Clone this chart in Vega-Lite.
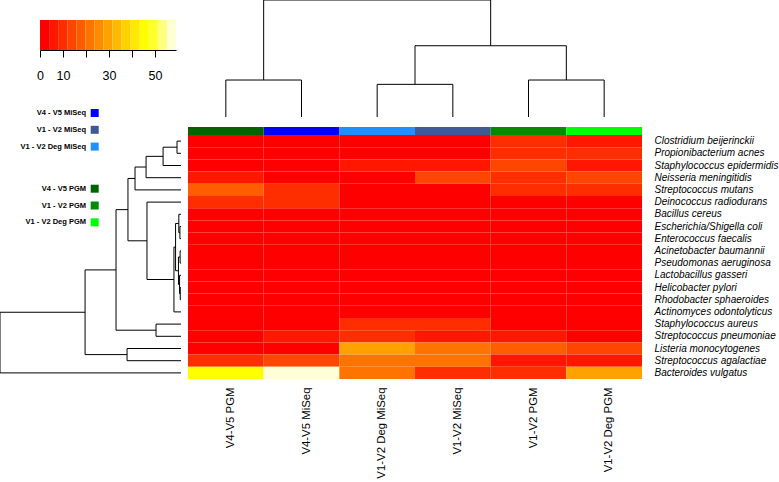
{
  "$schema": "https://vega.github.io/schema/vega-lite/v6.json",
  "width": 779,
  "height": 482,
  "autosize": {"type": "none"},
  "padding": 0,
  "background": "white",
  "config": {"view": {"stroke": null}, "font": "Liberation Sans"},
  "datasets": {
    "cells": [
      {"species": "Clostridium beijerinckii", "sample": "V4-V5 PGM", "value": 1},
      {"species": "Clostridium beijerinckii", "sample": "V4-V5 MiSeq", "value": 1},
      {"species": "Clostridium beijerinckii", "sample": "V1-V2 Deg MiSeq", "value": 1},
      {"species": "Clostridium beijerinckii", "sample": "V1-V2 MiSeq", "value": 1},
      {"species": "Clostridium beijerinckii", "sample": "V1-V2 PGM", "value": 9},
      {"species": "Clostridium beijerinckii", "sample": "V1-V2 Deg PGM", "value": 6},
      {"species": "Propionibacterium acnes", "sample": "V4-V5 PGM", "value": 1},
      {"species": "Propionibacterium acnes", "sample": "V4-V5 MiSeq", "value": 1},
      {"species": "Propionibacterium acnes", "sample": "V1-V2 Deg MiSeq", "value": 1},
      {"species": "Propionibacterium acnes", "sample": "V1-V2 MiSeq", "value": 1},
      {"species": "Propionibacterium acnes", "sample": "V1-V2 PGM", "value": 9},
      {"species": "Propionibacterium acnes", "sample": "V1-V2 Deg PGM", "value": 9},
      {"species": "Staphylococcus epidermidis", "sample": "V4-V5 PGM", "value": 1},
      {"species": "Staphylococcus epidermidis", "sample": "V4-V5 MiSeq", "value": 1},
      {"species": "Staphylococcus epidermidis", "sample": "V1-V2 Deg MiSeq", "value": 6},
      {"species": "Staphylococcus epidermidis", "sample": "V1-V2 MiSeq", "value": 6},
      {"species": "Staphylococcus epidermidis", "sample": "V1-V2 PGM", "value": 13},
      {"species": "Staphylococcus epidermidis", "sample": "V1-V2 Deg PGM", "value": 6},
      {"species": "Neisseria meningitidis", "sample": "V4-V5 PGM", "value": 6},
      {"species": "Neisseria meningitidis", "sample": "V4-V5 MiSeq", "value": 1},
      {"species": "Neisseria meningitidis", "sample": "V1-V2 Deg MiSeq", "value": 1},
      {"species": "Neisseria meningitidis", "sample": "V1-V2 MiSeq", "value": 13},
      {"species": "Neisseria meningitidis", "sample": "V1-V2 PGM", "value": 9},
      {"species": "Neisseria meningitidis", "sample": "V1-V2 Deg PGM", "value": 13},
      {"species": "Streptococcus mutans", "sample": "V4-V5 PGM", "value": 17},
      {"species": "Streptococcus mutans", "sample": "V4-V5 MiSeq", "value": 9},
      {"species": "Streptococcus mutans", "sample": "V1-V2 Deg MiSeq", "value": 1},
      {"species": "Streptococcus mutans", "sample": "V1-V2 MiSeq", "value": 1},
      {"species": "Streptococcus mutans", "sample": "V1-V2 PGM", "value": 9},
      {"species": "Streptococcus mutans", "sample": "V1-V2 Deg PGM", "value": 9},
      {"species": "Deinococcus radiodurans", "sample": "V4-V5 PGM", "value": 9},
      {"species": "Deinococcus radiodurans", "sample": "V4-V5 MiSeq", "value": 9},
      {"species": "Deinococcus radiodurans", "sample": "V1-V2 Deg MiSeq", "value": 1},
      {"species": "Deinococcus radiodurans", "sample": "V1-V2 MiSeq", "value": 1},
      {"species": "Deinococcus radiodurans", "sample": "V1-V2 PGM", "value": 1},
      {"species": "Deinococcus radiodurans", "sample": "V1-V2 Deg PGM", "value": 1},
      {"species": "Bacillus cereus", "sample": "V4-V5 PGM", "value": 1},
      {"species": "Bacillus cereus", "sample": "V4-V5 MiSeq", "value": 1},
      {"species": "Bacillus cereus", "sample": "V1-V2 Deg MiSeq", "value": 1},
      {"species": "Bacillus cereus", "sample": "V1-V2 MiSeq", "value": 1},
      {"species": "Bacillus cereus", "sample": "V1-V2 PGM", "value": 1},
      {"species": "Bacillus cereus", "sample": "V1-V2 Deg PGM", "value": 1},
      {"species": "Escherichia/Shigella coli", "sample": "V4-V5 PGM", "value": 1},
      {"species": "Escherichia/Shigella coli", "sample": "V4-V5 MiSeq", "value": 1},
      {"species": "Escherichia/Shigella coli", "sample": "V1-V2 Deg MiSeq", "value": 1},
      {"species": "Escherichia/Shigella coli", "sample": "V1-V2 MiSeq", "value": 1},
      {"species": "Escherichia/Shigella coli", "sample": "V1-V2 PGM", "value": 1},
      {"species": "Escherichia/Shigella coli", "sample": "V1-V2 Deg PGM", "value": 1},
      {"species": "Enterococcus faecalis", "sample": "V4-V5 PGM", "value": 1},
      {"species": "Enterococcus faecalis", "sample": "V4-V5 MiSeq", "value": 1},
      {"species": "Enterococcus faecalis", "sample": "V1-V2 Deg MiSeq", "value": 1},
      {"species": "Enterococcus faecalis", "sample": "V1-V2 MiSeq", "value": 1},
      {"species": "Enterococcus faecalis", "sample": "V1-V2 PGM", "value": 1},
      {"species": "Enterococcus faecalis", "sample": "V1-V2 Deg PGM", "value": 1},
      {"species": "Acinetobacter baumannii", "sample": "V4-V5 PGM", "value": 1},
      {"species": "Acinetobacter baumannii", "sample": "V4-V5 MiSeq", "value": 1},
      {"species": "Acinetobacter baumannii", "sample": "V1-V2 Deg MiSeq", "value": 1},
      {"species": "Acinetobacter baumannii", "sample": "V1-V2 MiSeq", "value": 1},
      {"species": "Acinetobacter baumannii", "sample": "V1-V2 PGM", "value": 1},
      {"species": "Acinetobacter baumannii", "sample": "V1-V2 Deg PGM", "value": 1},
      {"species": "Pseudomonas aeruginosa", "sample": "V4-V5 PGM", "value": 1},
      {"species": "Pseudomonas aeruginosa", "sample": "V4-V5 MiSeq", "value": 1},
      {"species": "Pseudomonas aeruginosa", "sample": "V1-V2 Deg MiSeq", "value": 1},
      {"species": "Pseudomonas aeruginosa", "sample": "V1-V2 MiSeq", "value": 1},
      {"species": "Pseudomonas aeruginosa", "sample": "V1-V2 PGM", "value": 1},
      {"species": "Pseudomonas aeruginosa", "sample": "V1-V2 Deg PGM", "value": 1},
      {"species": "Lactobacillus gasseri", "sample": "V4-V5 PGM", "value": 1},
      {"species": "Lactobacillus gasseri", "sample": "V4-V5 MiSeq", "value": 1},
      {"species": "Lactobacillus gasseri", "sample": "V1-V2 Deg MiSeq", "value": 1},
      {"species": "Lactobacillus gasseri", "sample": "V1-V2 MiSeq", "value": 1},
      {"species": "Lactobacillus gasseri", "sample": "V1-V2 PGM", "value": 1},
      {"species": "Lactobacillus gasseri", "sample": "V1-V2 Deg PGM", "value": 1},
      {"species": "Helicobacter pylori", "sample": "V4-V5 PGM", "value": 1},
      {"species": "Helicobacter pylori", "sample": "V4-V5 MiSeq", "value": 1},
      {"species": "Helicobacter pylori", "sample": "V1-V2 Deg MiSeq", "value": 1},
      {"species": "Helicobacter pylori", "sample": "V1-V2 MiSeq", "value": 1},
      {"species": "Helicobacter pylori", "sample": "V1-V2 PGM", "value": 1},
      {"species": "Helicobacter pylori", "sample": "V1-V2 Deg PGM", "value": 1},
      {"species": "Rhodobacter sphaeroides", "sample": "V4-V5 PGM", "value": 1},
      {"species": "Rhodobacter sphaeroides", "sample": "V4-V5 MiSeq", "value": 1},
      {"species": "Rhodobacter sphaeroides", "sample": "V1-V2 Deg MiSeq", "value": 1},
      {"species": "Rhodobacter sphaeroides", "sample": "V1-V2 MiSeq", "value": 1},
      {"species": "Rhodobacter sphaeroides", "sample": "V1-V2 PGM", "value": 1},
      {"species": "Rhodobacter sphaeroides", "sample": "V1-V2 Deg PGM", "value": 1},
      {"species": "Actinomyces odontolyticus", "sample": "V4-V5 PGM", "value": 1},
      {"species": "Actinomyces odontolyticus", "sample": "V4-V5 MiSeq", "value": 1},
      {"species": "Actinomyces odontolyticus", "sample": "V1-V2 Deg MiSeq", "value": 1},
      {"species": "Actinomyces odontolyticus", "sample": "V1-V2 MiSeq", "value": 1},
      {"species": "Actinomyces odontolyticus", "sample": "V1-V2 PGM", "value": 1},
      {"species": "Actinomyces odontolyticus", "sample": "V1-V2 Deg PGM", "value": 1},
      {"species": "Staphylococcus aureus", "sample": "V4-V5 PGM", "value": 1},
      {"species": "Staphylococcus aureus", "sample": "V4-V5 MiSeq", "value": 1},
      {"species": "Staphylococcus aureus", "sample": "V1-V2 Deg MiSeq", "value": 9},
      {"species": "Staphylococcus aureus", "sample": "V1-V2 MiSeq", "value": 9},
      {"species": "Staphylococcus aureus", "sample": "V1-V2 PGM", "value": 1},
      {"species": "Staphylococcus aureus", "sample": "V1-V2 Deg PGM", "value": 1},
      {"species": "Streptococcus pneumoniae", "sample": "V4-V5 PGM", "value": 1},
      {"species": "Streptococcus pneumoniae", "sample": "V4-V5 MiSeq", "value": 6},
      {"species": "Streptococcus pneumoniae", "sample": "V1-V2 Deg MiSeq", "value": 9},
      {"species": "Streptococcus pneumoniae", "sample": "V1-V2 MiSeq", "value": 6},
      {"species": "Streptococcus pneumoniae", "sample": "V1-V2 PGM", "value": 6},
      {"species": "Streptococcus pneumoniae", "sample": "V1-V2 Deg PGM", "value": 1},
      {"species": "Listeria monocytogenes", "sample": "V4-V5 PGM", "value": 1},
      {"species": "Listeria monocytogenes", "sample": "V4-V5 MiSeq", "value": 1},
      {"species": "Listeria monocytogenes", "sample": "V1-V2 Deg MiSeq", "value": 29},
      {"species": "Listeria monocytogenes", "sample": "V1-V2 MiSeq", "value": 21},
      {"species": "Listeria monocytogenes", "sample": "V1-V2 PGM", "value": 17},
      {"species": "Listeria monocytogenes", "sample": "V1-V2 Deg PGM", "value": 13},
      {"species": "Streptococcus agalactiae", "sample": "V4-V5 PGM", "value": 9},
      {"species": "Streptococcus agalactiae", "sample": "V4-V5 MiSeq", "value": 13},
      {"species": "Streptococcus agalactiae", "sample": "V1-V2 Deg MiSeq", "value": 21},
      {"species": "Streptococcus agalactiae", "sample": "V1-V2 MiSeq", "value": 21},
      {"species": "Streptococcus agalactiae", "sample": "V1-V2 PGM", "value": 6},
      {"species": "Streptococcus agalactiae", "sample": "V1-V2 Deg PGM", "value": 6},
      {"species": "Bacteroides vulgatus", "sample": "V4-V5 PGM", "value": 45},
      {"species": "Bacteroides vulgatus", "sample": "V4-V5 MiSeq", "value": 57},
      {"species": "Bacteroides vulgatus", "sample": "V1-V2 Deg MiSeq", "value": 21},
      {"species": "Bacteroides vulgatus", "sample": "V1-V2 MiSeq", "value": 9},
      {"species": "Bacteroides vulgatus", "sample": "V1-V2 PGM", "value": 9},
      {"species": "Bacteroides vulgatus", "sample": "V1-V2 Deg PGM", "value": 29}
    ],
    "samples": [
      {"sample": "V4-V5 PGM", "group": "V4 - V5 PGM", "platform": "PGM"},
      {"sample": "V4-V5 MiSeq", "group": "V4 - V5 MiSeq", "platform": "MiSeq"},
      {"sample": "V1-V2 Deg MiSeq", "group": "V1 - V2 Deg MiSeq", "platform": "MiSeq"},
      {"sample": "V1-V2 MiSeq", "group": "V1 - V2 MiSeq", "platform": "MiSeq"},
      {"sample": "V1-V2 PGM", "group": "V1 - V2 PGM", "platform": "PGM"},
      {"sample": "V1-V2 Deg PGM", "group": "V1 - V2 Deg PGM", "platform": "PGM"}
    ],
    "coltree": [
      {"p1": 1, "p2": 2, "h1": 3.16, "h2": 3.16},
      {"p1": 1, "p2": 1, "h1": 0, "h2": 3.16},
      {"p1": 2, "p2": 2, "h1": 0, "h2": 3.16},
      {"p1": 3, "p2": 4, "h1": 2.79, "h2": 2.79},
      {"p1": 3, "p2": 3, "h1": 0, "h2": 2.79},
      {"p1": 4, "p2": 4, "h1": 0, "h2": 2.79},
      {"p1": 5, "p2": 6, "h1": 3.16, "h2": 3.16},
      {"p1": 5, "p2": 5, "h1": 0, "h2": 3.16},
      {"p1": 6, "p2": 6, "h1": 0, "h2": 3.16},
      {"p1": 3.5, "p2": 5.5, "h1": 6.09, "h2": 6.09},
      {"p1": 3.5, "p2": 3.5, "h1": 2.79, "h2": 6.09},
      {"p1": 5.5, "p2": 5.5, "h1": 3.16, "h2": 6.09},
      {"p1": 1.5, "p2": 4.5, "h1": 10, "h2": 10},
      {"p1": 1.5, "p2": 1.5, "h1": 3.16, "h2": 10},
      {"p1": 4.5, "p2": 4.5, "h1": 6.09, "h2": 10}
    ],
    "rowtree": [
      {"h1": 0.22, "h2": 0.22, "p1": 1, "p2": 2},
      {"h1": 0.22, "h2": 0, "p1": 1, "p2": 1},
      {"h1": 0.22, "h2": 0, "p1": 2, "p2": 2},
      {"h1": 0.99, "h2": 0.99, "p1": 1.5, "p2": 3},
      {"h1": 0.99, "h2": 0.22, "p1": 1.5, "p2": 1.5},
      {"h1": 0.99, "h2": 0, "p1": 3, "p2": 3},
      {"h1": 1.93, "h2": 1.93, "p1": 2.25, "p2": 4},
      {"h1": 1.93, "h2": 0.99, "p1": 2.25, "p2": 2.25},
      {"h1": 1.93, "h2": 0, "p1": 4, "p2": 4},
      {"h1": 2.54, "h2": 2.54, "p1": 3.125, "p2": 5},
      {"h1": 2.54, "h2": 1.93, "p1": 3.125, "p2": 3.125},
      {"h1": 2.54, "h2": 0, "p1": 5, "p2": 5},
      {"h1": 0.06, "h2": 0.06, "p1": 8, "p2": 9},
      {"h1": 0.06, "h2": 0, "p1": 8, "p2": 8},
      {"h1": 0.06, "h2": 0, "p1": 9, "p2": 9},
      {"h1": 0.12, "h2": 0.12, "p1": 7, "p2": 8.5},
      {"h1": 0.12, "h2": 0, "p1": 7, "p2": 7},
      {"h1": 0.12, "h2": 0.06, "p1": 8.5, "p2": 8.5},
      {"h1": 0.05, "h2": 0.05, "p1": 10, "p2": 11},
      {"h1": 0.05, "h2": 0, "p1": 10, "p2": 10},
      {"h1": 0.05, "h2": 0, "p1": 11, "p2": 11},
      {"h1": 0.04, "h2": 0.04, "p1": 13, "p2": 14},
      {"h1": 0.04, "h2": 0, "p1": 13, "p2": 13},
      {"h1": 0.04, "h2": 0, "p1": 14, "p2": 14},
      {"h1": 0.08, "h2": 0.08, "p1": 12, "p2": 13.5},
      {"h1": 0.08, "h2": 0, "p1": 12, "p2": 12},
      {"h1": 0.08, "h2": 0.04, "p1": 13.5, "p2": 13.5},
      {"h1": 0.14, "h2": 0.14, "p1": 10.5, "p2": 12.75},
      {"h1": 0.14, "h2": 0.05, "p1": 10.5, "p2": 10.5},
      {"h1": 0.14, "h2": 0.08, "p1": 12.75, "p2": 12.75},
      {"h1": 0.3, "h2": 0.3, "p1": 7.75, "p2": 11.625},
      {"h1": 0.3, "h2": 0.12, "p1": 7.75, "p2": 7.75},
      {"h1": 0.3, "h2": 0.14, "p1": 11.625, "p2": 11.625},
      {"h1": 0.39, "h2": 0.39, "p1": 9.6875, "p2": 15},
      {"h1": 0.39, "h2": 0.3, "p1": 9.6875, "p2": 9.6875},
      {"h1": 0.39, "h2": 0, "p1": 15, "p2": 15},
      {"h1": 1.88, "h2": 1.88, "p1": 6, "p2": 12.34375},
      {"h1": 1.88, "h2": 0, "p1": 6, "p2": 6},
      {"h1": 1.88, "h2": 0.39, "p1": 12.34375, "p2": 12.34375},
      {"h1": 2.93, "h2": 2.93, "p1": 4.0625, "p2": 9.171875},
      {"h1": 2.93, "h2": 2.54, "p1": 4.0625, "p2": 4.0625},
      {"h1": 2.93, "h2": 1.88, "p1": 9.171875, "p2": 9.171875},
      {"h1": 1.38, "h2": 1.38, "p1": 16, "p2": 17},
      {"h1": 1.38, "h2": 0, "p1": 16, "p2": 16},
      {"h1": 1.38, "h2": 0, "p1": 17, "p2": 17},
      {"h1": 3.59, "h2": 3.59, "p1": 6.6171875, "p2": 16.5},
      {"h1": 3.59, "h2": 2.93, "p1": 6.6171875, "p2": 6.6171875},
      {"h1": 3.59, "h2": 1.38, "p1": 16.5, "p2": 16.5},
      {"h1": 2.98, "h2": 2.98, "p1": 18, "p2": 19},
      {"h1": 2.98, "h2": 0, "p1": 18, "p2": 18},
      {"h1": 2.98, "h2": 0, "p1": 19, "p2": 19},
      {"h1": 5.3, "h2": 5.3, "p1": 11.55859375, "p2": 18.5},
      {"h1": 5.3, "h2": 3.59, "p1": 11.55859375, "p2": 11.55859375},
      {"h1": 5.3, "h2": 2.98, "p1": 18.5, "p2": 18.5},
      {"h1": 10, "h2": 10, "p1": 15.029296875, "p2": 20},
      {"h1": 10, "h2": 5.3, "p1": 15.029296875, "p2": 15.029296875},
      {"h1": 10, "h2": 0, "p1": 20, "p2": 20}
    ],
    "key": [
      {"lo": 0, "hi": 3.94, "mid": 1.97},
      {"lo": 3.94, "hi": 7.88, "mid": 5.91},
      {"lo": 7.88, "hi": 11.82, "mid": 9.85},
      {"lo": 11.82, "hi": 15.76, "mid": 13.79},
      {"lo": 15.76, "hi": 19.7, "mid": 17.73},
      {"lo": 19.7, "hi": 23.64, "mid": 21.67},
      {"lo": 23.64, "hi": 27.58, "mid": 25.61},
      {"lo": 27.58, "hi": 31.52, "mid": 29.55},
      {"lo": 31.52, "hi": 35.46, "mid": 33.49},
      {"lo": 35.46, "hi": 39.4, "mid": 37.43},
      {"lo": 39.4, "hi": 43.34, "mid": 41.37},
      {"lo": 43.34, "hi": 47.28, "mid": 45.31},
      {"lo": 47.28, "hi": 51.22, "mid": 49.25},
      {"lo": 51.22, "hi": 55.16, "mid": 53.19},
      {"lo": 55.16, "hi": 59.1, "mid": 57.13}
    ]
  },
  "layer": [
    {
      "data": {"name": "cells"},
      "mark": {"type": "rect"},
      "encoding": {
        "x": {
          "field": "sample", "type": "nominal",
          "scale": {"domain": ["V4-V5 PGM", "V4-V5 MiSeq", "V1-V2 Deg MiSeq", "V1-V2 MiSeq", "V1-V2 PGM", "V1-V2 Deg PGM"], "range": [188, 642], "paddingInner": 0, "paddingOuter": 0},
          "axis": {"orient": "bottom", "offset": -95, "title": null, "domain": false, "ticks": false, "labelAngle": 270, "labelPadding": 0, "labelFontSize": 11.4, "labelColor": "black", "labelOffset": 5, "labelLimit": 300, "labelOverlap": false, "labelBound": false}
        },
        "y": {
          "field": "species", "type": "nominal",
          "scale": {"domain": ["Clostridium beijerinckii", "Propionibacterium acnes", "Staphylococcus epidermidis", "Neisseria meningitidis", "Streptococcus mutans", "Deinococcus radiodurans", "Bacillus cereus", "Escherichia/Shigella coli", "Enterococcus faecalis", "Acinetobacter baumannii", "Pseudomonas aeruginosa", "Lactobacillus gasseri", "Helicobacter pylori", "Rhodobacter sphaeroides", "Actinomyces odontolyticus", "Staphylococcus aureus", "Streptococcus pneumoniae", "Listeria monocytogenes", "Streptococcus agalactiae", "Bacteroides vulgatus"], "range": [135, 379], "paddingInner": 0, "paddingOuter": 0},
          "axis": {"orient": "right", "offset": -125, "title": null, "domain": false, "ticks": false, "labelPadding": 0, "labelFontSize": 10, "labelFontStyle": "italic", "labelColor": "black", "labelLimit": 300, "labelOverlap": false, "labelBound": false}
        },
        "color": {
          "field": "value", "type": "quantitative",
          "scale": {"type": "quantize", "domain": [0, 59.1], "nice": false, "zero": false, "range": ["#FF0000", "#FF1700", "#FF2E00", "#FF4600", "#FF5D00", "#FF7400", "#FF8B00", "#FFA200", "#FFB900", "#FFD100", "#FFE800", "#FFFF00", "#FFFF2B", "#FFFF80", "#FFFFD5"]},
          "legend": null
        }
      }
    },
    {
      "data": {"name": "coltree"},
      "mark": {"type": "rule", "color": "black", "strokeWidth": 1},
      "encoding": {
        "x": {"field": "p1", "type": "quantitative", "scale": {"domain": [0.5, 6.5], "range": [188, 642], "nice": false, "zero": false}, "axis": null},
        "x2": {"field": "p2"},
        "y": {"field": "h1", "type": "quantitative", "scale": {"domain": [0, 10], "range": [117, 0], "nice": false, "zero": false}, "axis": null},
        "y2": {"field": "h2"}
      }
    },
    {
      "data": {"name": "rowtree"},
      "mark": {"type": "rule", "color": "black", "strokeWidth": 1},
      "encoding": {
        "x": {"field": "h1", "type": "quantitative", "scale": {"domain": [0, 10], "range": [181, 0], "nice": false, "zero": false}, "axis": null},
        "x2": {"field": "h2"},
        "y": {"field": "p1", "type": "quantitative", "scale": {"domain": [0.5, 20.5], "range": [135, 379], "nice": false, "zero": false}, "axis": null},
        "y2": {"field": "p2"}
      }
    },
    {
      "data": {"name": "samples"},
      "transform": [{"filter": "datum.platform == 'MiSeq'"}],
      "mark": {"type": "rect"},
      "encoding": {
        "x": {"field": "sample", "type": "nominal", "scale": {"domain": ["V4-V5 PGM", "V4-V5 MiSeq", "V1-V2 Deg MiSeq", "V1-V2 MiSeq", "V1-V2 PGM", "V1-V2 Deg PGM"], "range": [188, 642], "paddingInner": 0, "paddingOuter": 0}, "axis": null},
        "y": {"datum": 0, "type": "quantitative", "scale": {"domain": [0, 1], "range": [135, 127], "nice": false, "zero": false}, "axis": null},
        "y2": {"datum": 1},
        "color": {
          "field": "group", "type": "nominal",
          "scale": {"domain": ["V4 - V5 MiSeq", "V1 - V2 MiSeq", "V1 - V2 Deg MiSeq"], "range": ["#0000FF", "#3F5A94", "#1E90FF"]},
          "legend": {"orient": "none", "legendX": 0, "legendY": 109, "direction": "vertical", "title": null, "symbolType": "square", "symbolSize": 64, "symbolStrokeWidth": 0, "symbolOpacity": 1, "symbolOffset": 90.7, "labelAlign": "right", "labelOffset": -12.7, "labelBaseline": "middle", "labelFontSize": 7.5, "labelFontWeight": "bold", "labelColor": "black", "rowPadding": 8.8, "padding": 0}
        }
      }
    },
    {
      "data": {"name": "samples"},
      "transform": [{"filter": "datum.platform == 'PGM'"}],
      "mark": {"type": "rect"},
      "encoding": {
        "x": {"field": "sample", "type": "nominal", "scale": {"domain": ["V4-V5 PGM", "V4-V5 MiSeq", "V1-V2 Deg MiSeq", "V1-V2 MiSeq", "V1-V2 PGM", "V1-V2 Deg PGM"], "range": [188, 642], "paddingInner": 0, "paddingOuter": 0}, "axis": null},
        "y": {"datum": 0, "type": "quantitative", "scale": {"domain": [0, 1], "range": [135, 127], "nice": false, "zero": false}, "axis": null},
        "y2": {"datum": 1},
        "color": {
          "field": "group", "type": "nominal",
          "scale": {"domain": ["V4 - V5 PGM", "V1 - V2 PGM", "V1 - V2 Deg PGM"], "range": ["#006400", "#008B00", "#00FF00"]},
          "legend": {"orient": "none", "legendX": 0, "legendY": 184.7, "direction": "vertical", "title": null, "symbolType": "square", "symbolSize": 64, "symbolStrokeWidth": 0, "symbolOpacity": 1, "symbolOffset": 90.7, "labelAlign": "right", "labelOffset": -12.7, "labelBaseline": "middle", "labelFontSize": 7.5, "labelFontWeight": "bold", "labelColor": "black", "rowPadding": 8.8, "padding": 0}
        }
      }
    },
    {
      "data": {"name": "key"},
      "mark": {"type": "rect"},
      "encoding": {
        "x": {
          "field": "lo", "type": "quantitative",
          "scale": {"domain": [0, 59.1], "range": [40, 176], "nice": false, "zero": false},
          "axis": {"orient": "bottom", "offset": -432, "title": null, "grid": false, "values": [0, 10, 20, 30, 40, 50], "labelExpr": "datum.value == 20 || datum.value == 40 ? '' : datum.label", "tickSize": 7, "tickColor": "black", "domainColor": "black", "labelColor": "black", "labelFontSize": 12.5, "labelPadding": 12, "labelFlush": false, "labelOverlap": false}
        },
        "x2": {"field": "hi"},
        "y": {"datum": 0, "type": "quantitative", "scale": {"domain": [0, 1], "range": [50, 20], "nice": false, "zero": false}, "axis": null},
        "y2": {"datum": 1},
        "color": {
          "field": "mid", "type": "quantitative",
          "scale": {"type": "quantize", "domain": [0, 59.1], "nice": false, "zero": false, "range": ["#FF0000", "#FF1700", "#FF2E00", "#FF4600", "#FF5D00", "#FF7400", "#FF8B00", "#FFA200", "#FFB900", "#FFD100", "#FFE800", "#FFFF00", "#FFFF2B", "#FFFF80", "#FFFFD5"]},
          "legend": null
        }
      }
    }
  ],
  "resolve": {
    "scale": {"x": "independent", "y": "independent", "color": "independent"},
    "axis": {"x": "independent", "y": "independent"},
    "legend": {"color": "independent"}
  }
}
